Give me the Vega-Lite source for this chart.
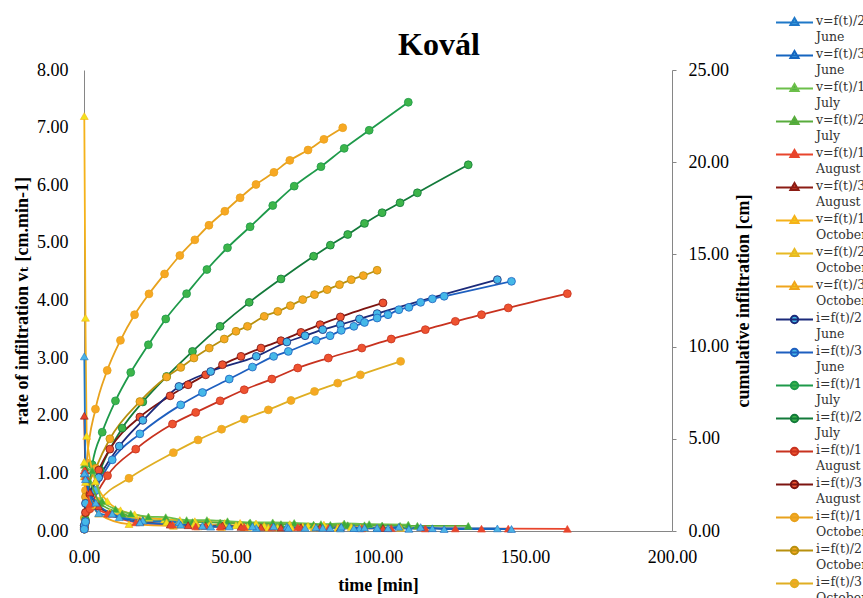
{
  "$schema": "https://vega.github.io/schema/vega-lite/v6.json",
  "autosize": {"type": "none"},
  "width": 588,
  "height": 461,
  "padding": {"left": 84, "top": 70, "right": 191, "bottom": 67},
  "background": "white",
  "config": {
    "view": {"stroke": null},
    "axis": {
      "grid": false,
      "labelFont": "Liberation Serif, Times New Roman, Tinos, DejaVu Serif, serif", "labelFontSize": 18, "labelColor": "#000",
      "titleFont": "Liberation Serif, Times New Roman, Tinos, DejaVu Serif, serif", "titleFontSize": 18, "titleFontWeight": "bold", "titleColor": "#000",
      "domainColor": "#868686"
    }
  },
  "title": {
    "text": "Kovál", "font": "Liberation Serif, Times New Roman, Tinos, DejaVu Serif, serif", "fontSize": 32, "fontWeight": "bold", "color": "#000",
    "anchor": "middle", "frame": "group", "dx": 61, "offset": -50.5
  },
  "data": {"values": [
    {"s":"i=f(t)/1 October","t":0.1,"y":0.7},{"s":"i=f(t)/1 October","t":0.5,"y":2.2},{"s":"i=f(t)/1 October","t":0.9,"y":3.7},{"s":"i=f(t)/1 October","t":3.9,"y":6.61},{"s":"i=f(t)/1 October","t":7.9,"y":8.71},{"s":"i=f(t)/1 October","t":12.4,"y":10.34},{"s":"i=f(t)/1 October","t":17.2,"y":11.73},{"s":"i=f(t)/1 October","t":22.1,"y":12.86},{"s":"i=f(t)/1 October","t":27.4,"y":13.94},{"s":"i=f(t)/1 October","t":32.6,"y":14.94},{"s":"i=f(t)/1 October","t":37.7,"y":15.79},{"s":"i=f(t)/1 October","t":42.5,"y":16.58},{"s":"i=f(t)/1 October","t":47.9,"y":17.34},{"s":"i=f(t)/1 October","t":53.1,"y":18.07},{"s":"i=f(t)/1 October","t":58.5,"y":18.79},{"s":"i=f(t)/1 October","t":64.6,"y":19.45},{"s":"i=f(t)/1 October","t":70,"y":20.1},{"s":"i=f(t)/1 October","t":76.2,"y":20.66},{"s":"i=f(t)/1 October","t":81.6,"y":21.24},{"s":"i=f(t)/1 October","t":88,"y":21.87},
    {"s":"v=f(t)/1 October","t":0.1,"y":7.2},{"s":"v=f(t)/1 October","t":0.5,"y":3.7},{"s":"v=f(t)/1 October","t":0.9,"y":1.65},{"s":"v=f(t)/1 October","t":3.9,"y":0.86},{"s":"v=f(t)/1 October","t":7.9,"y":0.52},{"s":"v=f(t)/1 October","t":12.4,"y":0.36},{"s":"v=f(t)/1 October","t":17.2,"y":0.29},{"s":"v=f(t)/1 October","t":22.1,"y":0.23},{"s":"v=f(t)/1 October","t":27.4,"y":0.2},{"s":"v=f(t)/1 October","t":32.6,"y":0.19},{"s":"v=f(t)/1 October","t":37.7,"y":0.17},{"s":"v=f(t)/1 October","t":42.5,"y":0.16},{"s":"v=f(t)/1 October","t":47.9,"y":0.14},{"s":"v=f(t)/1 October","t":53.1,"y":0.14},{"s":"v=f(t)/1 October","t":58.5,"y":0.13},{"s":"v=f(t)/1 October","t":64.6,"y":0.11},{"s":"v=f(t)/1 October","t":70,"y":0.12},{"s":"v=f(t)/1 October","t":76.2,"y":0.09},{"s":"v=f(t)/1 October","t":81.6,"y":0.11},{"s":"v=f(t)/1 October","t":88,"y":0.1},
    {"s":"i=f(t)/1 July","t":0.1,"y":0.15},{"s":"i=f(t)/1 July","t":0.5,"y":0.6},{"s":"i=f(t)/1 July","t":2.8,"y":3.59},{"s":"i=f(t)/1 July","t":6.2,"y":5.36},{"s":"i=f(t)/1 July","t":10.7,"y":7.06},{"s":"i=f(t)/1 July","t":15.9,"y":8.6},{"s":"i=f(t)/1 July","t":21.9,"y":10.1},{"s":"i=f(t)/1 July","t":27.8,"y":11.5},{"s":"i=f(t)/1 July","t":34.9,"y":12.87},{"s":"i=f(t)/1 July","t":41.8,"y":14.18},{"s":"i=f(t)/1 July","t":48.8,"y":15.36},{"s":"i=f(t)/1 July","t":56.5,"y":16.5},{"s":"i=f(t)/1 July","t":64.2,"y":17.65},{"s":"i=f(t)/1 July","t":71.5,"y":18.7},{"s":"i=f(t)/1 July","t":80.6,"y":19.76},{"s":"i=f(t)/1 July","t":88.5,"y":20.75},{"s":"i=f(t)/1 July","t":97,"y":21.73},{"s":"i=f(t)/1 July","t":110.3,"y":23.25},
    {"s":"v=f(t)/1 July","t":0.1,"y":1.15},{"s":"v=f(t)/1 July","t":0.5,"y":1.1},{"s":"v=f(t)/1 July","t":2.8,"y":1.05},{"s":"v=f(t)/1 July","t":6.2,"y":0.52},{"s":"v=f(t)/1 July","t":10.7,"y":0.38},{"s":"v=f(t)/1 July","t":15.9,"y":0.3},{"s":"v=f(t)/1 July","t":21.9,"y":0.25},{"s":"v=f(t)/1 July","t":27.8,"y":0.24},{"s":"v=f(t)/1 July","t":34.9,"y":0.19},{"s":"v=f(t)/1 July","t":41.8,"y":0.19},{"s":"v=f(t)/1 July","t":48.8,"y":0.17},{"s":"v=f(t)/1 July","t":56.5,"y":0.15},{"s":"v=f(t)/1 July","t":64.2,"y":0.15},{"s":"v=f(t)/1 July","t":71.5,"y":0.14},{"s":"v=f(t)/1 July","t":80.6,"y":0.12},{"s":"v=f(t)/1 July","t":88.5,"y":0.13},{"s":"v=f(t)/1 July","t":97,"y":0.12},{"s":"v=f(t)/1 July","t":110.3,"y":0.11},
    {"s":"i=f(t)/2 July","t":0.1,"y":0.1},{"s":"i=f(t)/2 July","t":0.5,"y":0.5},{"s":"i=f(t)/2 July","t":1.5,"y":1.4},{"s":"i=f(t)/2 July","t":5.5,"y":3.3},{"s":"i=f(t)/2 July","t":13,"y":5.58},{"s":"i=f(t)/2 July","t":20,"y":7.0},{"s":"i=f(t)/2 July","t":28.1,"y":8.38},{"s":"i=f(t)/2 July","t":36.9,"y":9.74},{"s":"i=f(t)/2 July","t":46.3,"y":11.1},{"s":"i=f(t)/2 July","t":56.2,"y":12.4},{"s":"i=f(t)/2 July","t":67,"y":13.67},{"s":"i=f(t)/2 July","t":78.1,"y":14.9},{"s":"i=f(t)/2 July","t":83.8,"y":15.5},{"s":"i=f(t)/2 July","t":89.7,"y":16.08},{"s":"i=f(t)/2 July","t":95.4,"y":16.68},{"s":"i=f(t)/2 July","t":101.4,"y":17.26},{"s":"i=f(t)/2 July","t":107.5,"y":17.8},{"s":"i=f(t)/2 July","t":113.4,"y":18.34},{"s":"i=f(t)/2 July","t":130.7,"y":19.86},
    {"s":"v=f(t)/2 July","t":0.1,"y":1.0},{"s":"v=f(t)/2 July","t":0.5,"y":0.95},{"s":"v=f(t)/2 July","t":1.5,"y":0.9},{"s":"v=f(t)/2 July","t":5.5,"y":0.48},{"s":"v=f(t)/2 July","t":13,"y":0.3},{"s":"v=f(t)/2 July","t":20,"y":0.2},{"s":"v=f(t)/2 July","t":28.1,"y":0.17},{"s":"v=f(t)/2 July","t":36.9,"y":0.155},{"s":"v=f(t)/2 July","t":46.3,"y":0.145},{"s":"v=f(t)/2 July","t":56.2,"y":0.13},{"s":"v=f(t)/2 July","t":67,"y":0.12},{"s":"v=f(t)/2 July","t":78.1,"y":0.11},{"s":"v=f(t)/2 July","t":83.8,"y":0.105},{"s":"v=f(t)/2 July","t":89.7,"y":0.1},{"s":"v=f(t)/2 July","t":95.4,"y":0.1},{"s":"v=f(t)/2 July","t":101.4,"y":0.095},{"s":"v=f(t)/2 July","t":107.5,"y":0.09},{"s":"v=f(t)/2 July","t":113.4,"y":0.09},{"s":"v=f(t)/2 July","t":130.7,"y":0.088},
    {"s":"i=f(t)/2 October","t":0.1,"y":0.3},{"s":"i=f(t)/2 October","t":0.5,"y":1.85},{"s":"i=f(t)/2 October","t":4,"y":3.4},{"s":"i=f(t)/2 October","t":8.8,"y":5.0},{"s":"i=f(t)/2 October","t":19,"y":7.02},{"s":"i=f(t)/2 October","t":28.1,"y":8.35},{"s":"i=f(t)/2 October","t":32.9,"y":8.87},{"s":"i=f(t)/2 October","t":37.4,"y":9.38},{"s":"i=f(t)/2 October","t":42.6,"y":9.92},{"s":"i=f(t)/2 October","t":47.7,"y":10.41},{"s":"i=f(t)/2 October","t":51.7,"y":10.83},{"s":"i=f(t)/2 October","t":55.6,"y":11.1},{"s":"i=f(t)/2 October","t":61.3,"y":11.64},{"s":"i=f(t)/2 October","t":65.9,"y":11.91},{"s":"i=f(t)/2 October","t":70.2,"y":12.22},{"s":"i=f(t)/2 October","t":74.4,"y":12.55},{"s":"i=f(t)/2 October","t":78.4,"y":12.82},{"s":"i=f(t)/2 October","t":82.7,"y":13.09},{"s":"i=f(t)/2 October","t":86.9,"y":13.36},{"s":"i=f(t)/2 October","t":90.9,"y":13.63},{"s":"i=f(t)/2 October","t":95,"y":13.85},{"s":"i=f(t)/2 October","t":99.7,"y":14.14},
    {"s":"v=f(t)/2 October","t":0.1,"y":1.2},{"s":"v=f(t)/2 October","t":0.5,"y":1.0},{"s":"v=f(t)/2 October","t":4,"y":0.45},{"s":"v=f(t)/2 October","t":8.8,"y":0.33},{"s":"v=f(t)/2 October","t":19,"y":0.2},{"s":"v=f(t)/2 October","t":28.1,"y":0.15},{"s":"v=f(t)/2 October","t":32.9,"y":0.11},{"s":"v=f(t)/2 October","t":37.4,"y":0.11},{"s":"v=f(t)/2 October","t":42.6,"y":0.1},{"s":"v=f(t)/2 October","t":47.7,"y":0.1},{"s":"v=f(t)/2 October","t":51.7,"y":0.1},{"s":"v=f(t)/2 October","t":55.6,"y":0.07},{"s":"v=f(t)/2 October","t":61.3,"y":0.09},{"s":"v=f(t)/2 October","t":65.9,"y":0.06},{"s":"v=f(t)/2 October","t":70.2,"y":0.07},{"s":"v=f(t)/2 October","t":74.4,"y":0.08},{"s":"v=f(t)/2 October","t":78.4,"y":0.07},{"s":"v=f(t)/2 October","t":82.7,"y":0.06},{"s":"v=f(t)/2 October","t":86.9,"y":0.06},{"s":"v=f(t)/2 October","t":90.9,"y":0.07},{"s":"v=f(t)/2 October","t":95,"y":0.05},{"s":"v=f(t)/2 October","t":99.7,"y":0.06},
    {"s":"i=f(t)/3 October","t":0.1,"y":0.1},{"s":"i=f(t)/3 October","t":0.5,"y":0.45},{"s":"i=f(t)/3 October","t":5,"y":1.6},{"s":"i=f(t)/3 October","t":15.3,"y":2.86},{"s":"i=f(t)/3 October","t":30.4,"y":4.25},{"s":"i=f(t)/3 October","t":38.8,"y":4.94},{"s":"i=f(t)/3 October","t":46.8,"y":5.52},{"s":"i=f(t)/3 October","t":54.5,"y":6.07},{"s":"i=f(t)/3 October","t":62.7,"y":6.57},{"s":"i=f(t)/3 October","t":70.4,"y":7.08},{"s":"i=f(t)/3 October","t":78.4,"y":7.57},{"s":"i=f(t)/3 October","t":86.3,"y":8.02},{"s":"i=f(t)/3 October","t":94,"y":8.47},{"s":"i=f(t)/3 October","t":107.7,"y":9.2},
    {"s":"v=f(t)/3 October","t":0.1,"y":0.95},{"s":"v=f(t)/3 October","t":0.5,"y":0.85},{"s":"v=f(t)/3 October","t":5,"y":0.3},{"s":"v=f(t)/3 October","t":15.3,"y":0.12},{"s":"v=f(t)/3 October","t":30.4,"y":0.09},{"s":"v=f(t)/3 October","t":38.8,"y":0.08},{"s":"v=f(t)/3 October","t":46.8,"y":0.07},{"s":"v=f(t)/3 October","t":54.5,"y":0.07},{"s":"v=f(t)/3 October","t":62.7,"y":0.06},{"s":"v=f(t)/3 October","t":70.4,"y":0.066},{"s":"v=f(t)/3 October","t":78.4,"y":0.06},{"s":"v=f(t)/3 October","t":86.3,"y":0.057},{"s":"v=f(t)/3 October","t":94,"y":0.058},{"s":"v=f(t)/3 October","t":107.7,"y":0.053},
    {"s":"i=f(t)/3 August","t":0.1,"y":0.2},{"s":"i=f(t)/3 August","t":0.5,"y":1.0},{"s":"i=f(t)/3 August","t":2,"y":2.0},{"s":"i=f(t)/3 August","t":5,"y":3.3},{"s":"i=f(t)/3 August","t":8.8,"y":4.44},{"s":"i=f(t)/3 August","t":19,"y":6.18},{"s":"i=f(t)/3 August","t":29.3,"y":7.33},{"s":"i=f(t)/3 August","t":35.4,"y":7.93},{"s":"i=f(t)/3 August","t":41.4,"y":8.47},{"s":"i=f(t)/3 August","t":47.1,"y":9.02},{"s":"i=f(t)/3 August","t":53.4,"y":9.47},{"s":"i=f(t)/3 August","t":60.2,"y":9.92},{"s":"i=f(t)/3 August","t":67,"y":10.32},{"s":"i=f(t)/3 August","t":73.8,"y":10.77},{"s":"i=f(t)/3 August","t":80.3,"y":11.19},{"s":"i=f(t)/3 August","t":87.2,"y":11.61},{"s":"i=f(t)/3 August","t":101.7,"y":12.37},
    {"s":"v=f(t)/3 August","t":0.1,"y":2.0},{"s":"v=f(t)/3 August","t":0.5,"y":1.05},{"s":"v=f(t)/3 August","t":2,"y":0.67},{"s":"v=f(t)/3 August","t":5,"y":0.43},{"s":"v=f(t)/3 August","t":8.8,"y":0.3},{"s":"v=f(t)/3 August","t":19,"y":0.17},{"s":"v=f(t)/3 August","t":29.3,"y":0.11},{"s":"v=f(t)/3 August","t":35.4,"y":0.1},{"s":"v=f(t)/3 August","t":41.4,"y":0.09},{"s":"v=f(t)/3 August","t":47.1,"y":0.096},{"s":"v=f(t)/3 August","t":53.4,"y":0.071},{"s":"v=f(t)/3 August","t":60.2,"y":0.066},{"s":"v=f(t)/3 August","t":67,"y":0.059},{"s":"v=f(t)/3 August","t":73.8,"y":0.066},{"s":"v=f(t)/3 August","t":80.3,"y":0.065},{"s":"v=f(t)/3 August","t":87.2,"y":0.061},{"s":"v=f(t)/3 August","t":101.7,"y":0.052},
    {"s":"i=f(t)/1 August","t":0.1,"y":0.1},{"s":"i=f(t)/1 August","t":0.5,"y":0.5},{"s":"i=f(t)/1 August","t":2,"y":1.2},{"s":"i=f(t)/1 August","t":8,"y":3.0},{"s":"i=f(t)/1 August","t":17.6,"y":4.44},{"s":"i=f(t)/1 August","t":30.1,"y":5.8},{"s":"i=f(t)/1 August","t":38,"y":6.43},{"s":"i=f(t)/1 August","t":46.3,"y":7.06},{"s":"i=f(t)/1 August","t":54.5,"y":7.66},{"s":"i=f(t)/1 August","t":63.9,"y":8.24},{"s":"i=f(t)/1 August","t":72.7,"y":8.84},{"s":"i=f(t)/1 August","t":83.1,"y":9.38},{"s":"i=f(t)/1 August","t":94.5,"y":9.92},{"s":"i=f(t)/1 August","t":104.5,"y":10.41},{"s":"i=f(t)/1 August","t":116.1,"y":10.92},{"s":"i=f(t)/1 August","t":126.3,"y":11.37},{"s":"i=f(t)/1 August","t":135.2,"y":11.73},{"s":"i=f(t)/1 August","t":144.3,"y":12.1},{"s":"i=f(t)/1 August","t":164.4,"y":12.87},
    {"s":"v=f(t)/1 August","t":0.1,"y":1.05},{"s":"v=f(t)/1 August","t":0.5,"y":0.95},{"s":"v=f(t)/1 August","t":2,"y":0.47},{"s":"v=f(t)/1 August","t":8,"y":0.3},{"s":"v=f(t)/1 August","t":17.6,"y":0.15},{"s":"v=f(t)/1 August","t":30.1,"y":0.11},{"s":"v=f(t)/1 August","t":38,"y":0.08},{"s":"v=f(t)/1 August","t":46.3,"y":0.076},{"s":"v=f(t)/1 August","t":54.5,"y":0.073},{"s":"v=f(t)/1 August","t":63.9,"y":0.062},{"s":"v=f(t)/1 August","t":72.7,"y":0.068},{"s":"v=f(t)/1 August","t":83.1,"y":0.052},{"s":"v=f(t)/1 August","t":94.5,"y":0.047},{"s":"v=f(t)/1 August","t":104.5,"y":0.049},{"s":"v=f(t)/1 August","t":116.1,"y":0.044},{"s":"v=f(t)/1 August","t":126.3,"y":0.044},{"s":"v=f(t)/1 August","t":135.2,"y":0.04},{"s":"v=f(t)/1 August","t":144.3,"y":0.041},{"s":"v=f(t)/1 August","t":164.4,"y":0.038},
    {"s":"i=f(t)/2 June","t":0.1,"y":0.3},{"s":"i=f(t)/2 June","t":0.5,"y":1.5},{"s":"i=f(t)/2 June","t":5,"y":2.9},{"s":"i=f(t)/2 June","t":12,"y":4.6},{"s":"i=f(t)/2 June","t":20,"y":6.0},{"s":"i=f(t)/2 June","t":32.3,"y":7.84},{"s":"i=f(t)/2 June","t":43.1,"y":8.65},{"s":"i=f(t)/2 June","t":58.6,"y":9.47},{"s":"i=f(t)/2 June","t":69,"y":10.25},{"s":"i=f(t)/2 June","t":75.2,"y":10.59},{"s":"i=f(t)/2 June","t":81.2,"y":10.92},{"s":"i=f(t)/2 June","t":87.2,"y":11.19},{"s":"i=f(t)/2 June","t":93.7,"y":11.5},{"s":"i=f(t)/2 June","t":99.7,"y":11.79},{"s":"i=f(t)/2 June","t":140.6,"y":13.63},
    {"s":"v=f(t)/2 June","t":0.1,"y":3.03},{"s":"v=f(t)/2 June","t":0.5,"y":1.0},{"s":"v=f(t)/2 June","t":5,"y":0.31},{"s":"v=f(t)/2 June","t":12,"y":0.24},{"s":"v=f(t)/2 June","t":20,"y":0.18},{"s":"v=f(t)/2 June","t":32.3,"y":0.15},{"s":"v=f(t)/2 June","t":43.1,"y":0.075},{"s":"v=f(t)/2 June","t":58.6,"y":0.053},{"s":"v=f(t)/2 June","t":69,"y":0.075},{"s":"v=f(t)/2 June","t":75.2,"y":0.055},{"s":"v=f(t)/2 June","t":81.2,"y":0.055},{"s":"v=f(t)/2 June","t":87.2,"y":0.045},{"s":"v=f(t)/2 June","t":93.7,"y":0.048},{"s":"v=f(t)/2 June","t":99.7,"y":0.048},{"s":"v=f(t)/2 June","t":140.6,"y":0.045},
    {"s":"i=f(t)/3 June","t":0.1,"y":0.1},{"s":"i=f(t)/3 June","t":0.5,"y":0.5},{"s":"i=f(t)/3 June","t":4,"y":2.2},{"s":"i=f(t)/3 June","t":9.6,"y":3.86},{"s":"i=f(t)/3 June","t":19,"y":5.27},{"s":"i=f(t)/3 June","t":32.9,"y":6.84},{"s":"i=f(t)/3 June","t":40.3,"y":7.51},{"s":"i=f(t)/3 June","t":49.4,"y":8.24},{"s":"i=f(t)/3 June","t":57.3,"y":8.89},{"s":"i=f(t)/3 June","t":64.5,"y":9.47},{"s":"i=f(t)/3 June","t":69.5,"y":9.74},{"s":"i=f(t)/3 June","t":78.9,"y":10.34},{"s":"i=f(t)/3 June","t":83.7,"y":10.59},{"s":"i=f(t)/3 June","t":87.5,"y":10.88},{"s":"i=f(t)/3 June","t":91.8,"y":11.1},{"s":"i=f(t)/3 June","t":95.4,"y":11.31},{"s":"i=f(t)/3 June","t":99.7,"y":11.55},{"s":"i=f(t)/3 June","t":103.4,"y":11.73},{"s":"i=f(t)/3 June","t":107.1,"y":12.0},{"s":"i=f(t)/3 June","t":110.5,"y":12.13},{"s":"i=f(t)/3 June","t":114.5,"y":12.4},{"s":"i=f(t)/3 June","t":118.5,"y":12.59},{"s":"i=f(t)/3 June","t":122.5,"y":12.73},{"s":"i=f(t)/3 June","t":145.4,"y":13.54},
    {"s":"v=f(t)/3 June","t":0.1,"y":1.0},{"s":"v=f(t)/3 June","t":0.5,"y":0.9},{"s":"v=f(t)/3 June","t":4,"y":0.49},{"s":"v=f(t)/3 June","t":9.6,"y":0.3},{"s":"v=f(t)/3 June","t":19,"y":0.15},{"s":"v=f(t)/3 June","t":32.9,"y":0.11},{"s":"v=f(t)/3 June","t":40.3,"y":0.09},{"s":"v=f(t)/3 June","t":49.4,"y":0.08},{"s":"v=f(t)/3 June","t":57.3,"y":0.082},{"s":"v=f(t)/3 June","t":64.5,"y":0.08},{"s":"v=f(t)/3 June","t":69.5,"y":0.054},{"s":"v=f(t)/3 June","t":78.9,"y":0.064},{"s":"v=f(t)/3 June","t":83.7,"y":0.052},{"s":"v=f(t)/3 June","t":87.5,"y":0.076},{"s":"v=f(t)/3 June","t":91.8,"y":0.051},{"s":"v=f(t)/3 June","t":95.4,"y":0.058},{"s":"v=f(t)/3 June","t":99.7,"y":0.056},{"s":"v=f(t)/3 June","t":103.4,"y":0.049},{"s":"v=f(t)/3 June","t":107.1,"y":0.073},{"s":"v=f(t)/3 June","t":110.5,"y":0.038},{"s":"v=f(t)/3 June","t":114.5,"y":0.068},{"s":"v=f(t)/3 June","t":118.5,"y":0.048},{"s":"v=f(t)/3 June","t":122.5,"y":0.035},{"s":"v=f(t)/3 June","t":145.4,"y":0.035}
  ]},
  "encoding": {
    "x": {
      "field": "t", "type": "quantitative",
      "scale": {"domain": [0, 200], "nice": false},
      "axis": {"values": [0, 50, 100, 150, 200], "format": ".2f", "ticks": false, "labelFlush": false, "labelPadding": 17, "title": "time [min]", "titlePadding": 10}
    },
    "stroke": {
      "field": "s", "type": "nominal",
      "scale": {
        "domain": ["v=f(t)/2 June", "v=f(t)/3 June", "v=f(t)/1 July", "v=f(t)/2 July", "v=f(t)/1 August", "v=f(t)/3 August", "v=f(t)/1 October", "v=f(t)/2 October", "v=f(t)/3 October", "i=f(t)/2 June", "i=f(t)/3 June", "i=f(t)/1 July", "i=f(t)/2 July", "i=f(t)/1 August", "i=f(t)/3 August", "i=f(t)/1 October", "i=f(t)/2 October", "i=f(t)/3 October"],
        "range": ["#1f78c8", "#1565c0", "#6cbf4a", "#58ac3c", "#e8452c", "#8b1c14", "#f5b21a", "#e8b923", "#f0a51c", "#1b2a7a", "#1e5fbf", "#1e9a4a", "#137a3a", "#c8321f", "#7d1410", "#e8a21d", "#b8900e", "#e0ae22"]
      },
      "legend": {
        "orient": "none", "legendX": 699.5, "legendY": -58.5, "title": null,
        "direction": "vertical", "columns": 1, "padding": 0,
        "labelFont": "DejaVu Serif", "labelFontSize": 12.5, "labelColor": "#333",
        "labelExpr": "split(datum.label, ' ')", "labelBaseline": "top", "labelOffset": 10.5, "labelLimit": 300,
        "symbolSize": 400, "symbolStrokeWidth": 2, "rowPadding": 0,
        "encode": {
          "symbols": {"update": {
            "shape": {"signal": "indexof(datum.value, 'v=') == 0 ? 'M-1.85,0H1.85M0,-0.46L0.41,0.26L-0.41,0.26Z' : 'M-1.85,0H1.85M0.37,0A0.37,0.37,0,1,1,-0.37,0A0.37,0.37,0,1,1,0.37,0Z'"},
            "fill": {"scale": "fill", "field": "value"},
            "stroke": {"scale": "stroke", "field": "value"},
            "strokeWidth": {"value": 2},
            "opacity": {"value": 1}
          }},
          "labels": {"update": {"dy": {"value": -7.25}, "lineHeight": {"value": 16}}}
        }
      }
    }
  },
  "layer": [
    {
      "transform": [{"filter": "test(/^i/, datum.s)"}],
      "encoding": {
        "y": {
          "field": "y", "type": "quantitative",
          "scale": {"domain": [0, 25], "nice": false},
          "axis": {"orient": "right", "title": "cumulative infiltration [cm]", "values": [0, 5, 10, 15, 20, 25], "format": ".2f", "ticks": true, "tickSize": 4, "tickColor": "#868686", "labelPadding": 12, "titleAngle": -90, "titleBaseline": "top", "titlePadding": 6}
        }
      },
      "layer": [
        {"mark": {"type": "line", "interpolate": "monotone", "strokeWidth": 1.8}},
        {
          "mark": {"type": "point", "shape": "circle", "filled": true, "size": 62, "opacity": 1, "strokeWidth": 0.8},
          "encoding": {
            "fill": {
              "field": "s", "type": "nominal", "legend": null,
              "scale": {
                "domain": ["v=f(t)/2 June", "v=f(t)/3 June", "v=f(t)/1 July", "v=f(t)/2 July", "v=f(t)/1 August", "v=f(t)/3 August", "v=f(t)/1 October", "v=f(t)/2 October", "v=f(t)/3 October", "i=f(t)/2 June", "i=f(t)/3 June", "i=f(t)/1 July", "i=f(t)/2 July", "i=f(t)/1 August", "i=f(t)/3 August", "i=f(t)/1 October", "i=f(t)/2 October", "i=f(t)/3 October"],
                "range": ["#4cb4e6", "#4cb4e6", "#3bab3a", "#3bab3a", "#e8452c", "#e8452c", "#f3e21b", "#f3e21b", "#f3e21b", "#45b8e8", "#45b8e8", "#3db54a", "#3db54a", "#ee5330", "#ee5330", "#f7a823", "#f7a823", "#f7a823"]
              }
            }
          }
        }
      ]
    },
    {
      "transform": [{"filter": "test(/^v/, datum.s)"}],
      "encoding": {
        "y": {
          "field": "y", "type": "quantitative",
          "scale": {"domain": [0, 8], "nice": false},
          "axis": {"orient": "left", "title": "rate of infiltration vₜ [cm.min-1]", "values": [0, 1, 2, 3, 4, 5, 6, 7, 8], "format": ".2f", "ticks": false, "labelPadding": 16, "titlePadding": 5}
        }
      },
      "layer": [
        {"mark": {"type": "line", "interpolate": "monotone", "strokeWidth": 1.8}},
        {
          "mark": {"type": "point", "shape": "triangle-up", "filled": true, "size": 62, "opacity": 1, "strokeWidth": 0.6},
          "encoding": {
            "fill": {
              "field": "s", "type": "nominal", "legend": null,
              "scale": {
                "domain": ["v=f(t)/2 June", "v=f(t)/3 June", "v=f(t)/1 July", "v=f(t)/2 July", "v=f(t)/1 August", "v=f(t)/3 August", "v=f(t)/1 October", "v=f(t)/2 October", "v=f(t)/3 October", "i=f(t)/2 June", "i=f(t)/3 June", "i=f(t)/1 July", "i=f(t)/2 July", "i=f(t)/1 August", "i=f(t)/3 August", "i=f(t)/1 October", "i=f(t)/2 October", "i=f(t)/3 October"],
                "range": ["#4cb4e6", "#4cb4e6", "#3bab3a", "#3bab3a", "#e8452c", "#e8452c", "#f3e21b", "#f3e21b", "#f3e21b", "#45b8e8", "#45b8e8", "#3db54a", "#3db54a", "#ee5330", "#ee5330", "#f7a823", "#f7a823", "#f7a823"]
              }
            }
          }
        }
      ]
    }
  ],
  "resolve": {"scale": {"y": "independent"}}
}
